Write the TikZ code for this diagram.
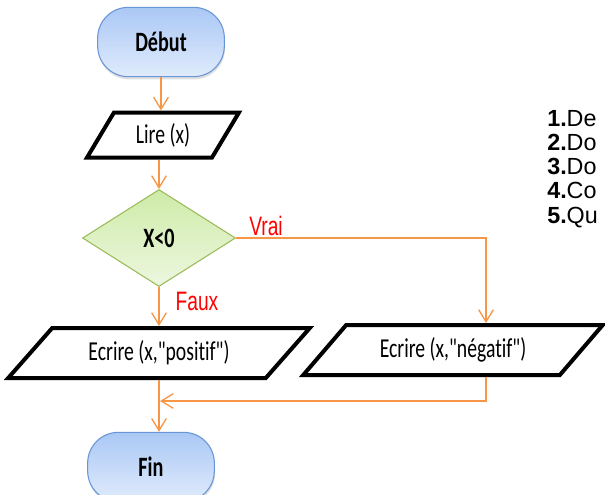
\documentclass[tikz,border=0pt]{standalone}
\usepackage{fontspec}
\setmainfont{Liberation Sans}
\newfontfamily\calib[FakeStretch=0.72,Ligatures={TeXOff,NoCommon}]{Carlito}
\newfontfamily\labfont[FakeStretch=0.72]{Liberation Sans}
\usetikzlibrary{shapes.geometric,arrows.meta,shadows,calc}

\definecolor{flowline}{RGB}{247,150,70}
\definecolor{termtop}{RGB}{170,200,245}
\definecolor{termbot}{RGB}{224,235,252}
\definecolor{termdraw}{RGB}{105,150,214}
\definecolor{condtop}{RGB}{206,235,168}
\definecolor{condbot}{RGB}{237,247,224}
\definecolor{conddraw}{RGB}{155,187,89}

\tikzset{
  terminal/.style={rectangle, rounded corners=23pt, draw=termdraw, line width=0.8pt,
    top color=termtop, bottom color=termbot, minimum width=95pt, minimum height=52pt,
    font=\calib\fontsize{21}{23}\selectfont\bfseries,
    drop shadow={opacity=0.25, shadow xshift=0.5pt, shadow yshift=-2pt}},
  decision/.style={diamond, draw=conddraw, line width=0.8pt, inner sep=0pt,
    top color=condtop, bottom color=condbot, minimum width=114.75pt, minimum height=72.75pt,
    font=\calib\fontsize{21}{23}\selectfont\bfseries},
  iobox/.style={trapezium, trapezium stretches=true, draw=black, line width=3pt,
    fill=white, inner sep=0pt, font=\calib\fontsize{20.5}{23}\selectfont},
  flow/.style={draw=flowline, line width=1pt, -{Straight Barb[length=9pt,width=11pt]}},
  answer/.style={text=red, inner sep=0pt, font=\labfont\fontsize{20}{22}\selectfont},
  question/.style={anchor=base west, inner sep=0pt, font=\fontsize{17.5}{19}\selectfont}
}

\begin{document}
\begin{tikzpicture}[x=0.75pt, y=-0.75pt]
    \useasboundingbox (0,0) rectangle (605,494);

    % Flowchart
    \node[terminal] (debut) at (161,42) {Début};
    \node[iobox, trapezium left angle=58, trapezium right angle=122,
          minimum width=114pt, minimum height=33.75pt] (lire) at (163,135) {Lire (x)};
    \node[decision] (cond) at (159,238) {X<0};
    \node[iobox, trapezium left angle=40, trapezium right angle=140,
          minimum width=226.5pt, minimum height=37.5pt] (pos) at (159,353) {Ecrire (x,"positif")};
    \node[iobox, trapezium left angle=40, trapezium right angle=140,
          minimum width=225pt, minimum height=37.5pt] (neg) at (453,350) {Ecrire (x,"négatif")};
    \node[terminal] (fin) at (151,467) {Fin};
    \coordinate (merge) at (160,401);

    % Branch labels
    \node[answer] (vrai) at (266,226) {Vrai};
    \node[answer] (faux) at (197,301) {Faux};

    % Arrows
    \draw[flow] (debut.south) -- (debut.south |- lire.north);
    \draw[flow] (cond.north |- lire.south) -- (cond.north);
    \draw[flow] (cond.south) -- (cond.south |- pos.north);
    \draw[flow] (cond.east) -| ($(neg.north)+(33,0)$);
    \draw[flow] ($(neg.south)+(33,0)$) |- (merge);
    \draw[flow] (pos.south) -- (pos.south |- fin.north);

    % Questions
    \foreach \i/\t in {1/De,2/Do,3/Do,4/Co,5/Qu}
        \node[question] (q\i) at (547,{126+24.3*(\i-1)}) {\textbf{\i.}\t};
\end{tikzpicture}
\end{document}
